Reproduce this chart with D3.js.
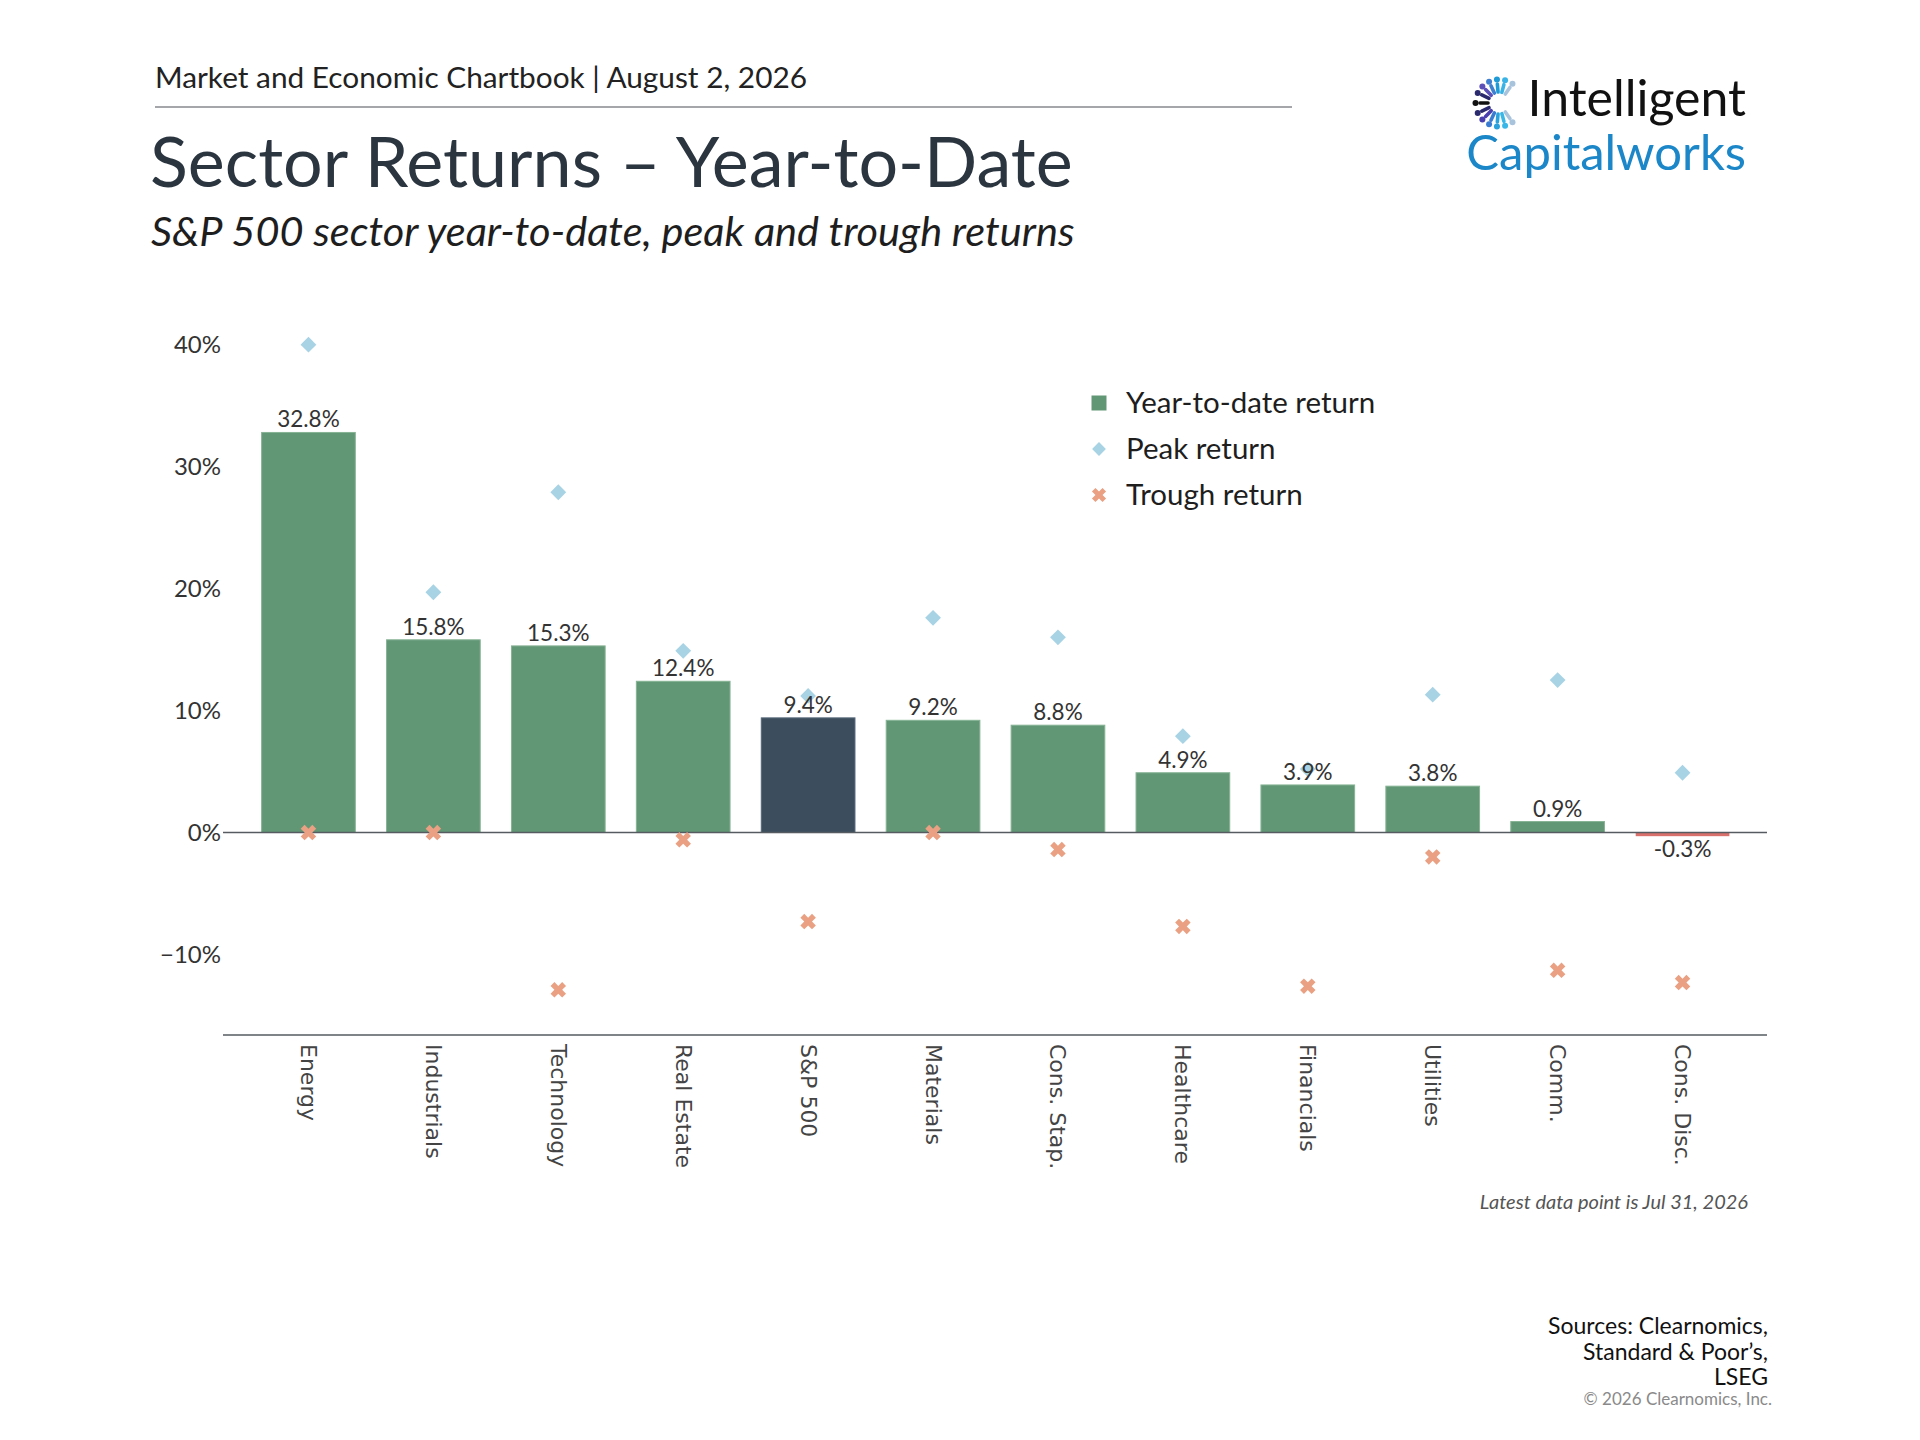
<!DOCTYPE html>
<html>
    <head>
        <meta charset="utf-8">
        <script src="https://d3js.org/d3.v7.min.js"></script>
        <style>
            body { margin: 0; background: #fff; }
            svg { font-family: Lato, "Noto Sans", sans-serif; }
        </style>
    </head>
    <body>
        <svg height='1440' width='1920'></svg>

        <script>
            // chart values
            const sectors = ['Energy','Industrials','Technology','Real Estate','S&P 500','Materials',
                             'Cons. Stap.','Healthcare','Financials','Utilities','Comm.','Cons. Disc.'];
            const ytd    = [32.8, 15.8, 15.3, 12.4, 9.4, 9.2, 8.8, 4.9, 3.9, 3.8, 0.9, -0.3];
            const peak   = [40.0, 19.7, 27.9, 14.9, 11.2, 17.6, 16.0, 7.9, 5.2, 11.3, 12.5, 4.9];
            const trough = [0.0, 0.0, -12.9, -0.6, -7.3, 0.0, -1.4, -7.7, -12.6, -2.0, -11.3, -12.3];
            const yTicks = [-10, 0, 10, 20, 30, 40];
            const legendItems = ['Year-to-date return','Peak return','Trough return'];
            const sourceLines = ['Sources: Clearnomics,','Standard & Poor’s,','LSEG'];

            const svg = d3.select('svg');

            const green = '#629776', navy = '#3c4e5e', red = '#d9706c';
            const peakColor = '#a7d3e5', troughColor = '#eaa082';

            const rows = sectors.map((s, i) => ({ name: s, ytd: ytd[i], peak: peak[i], trough: trough[i] }));

            // ---- header ----
            svg.append('text')
                .attr('x', 155).attr('y', 88)
                .attr('font-size', 29.8).attr('fill', '#222')
                .text('Market and Economic Chartbook | August 2, 2026');

            svg.append('line')
                .attr('x1', 155).attr('x2', 1292)
                .attr('y1', 107).attr('y2', 107)
                .attr('stroke', '#4a4f55').attr('stroke-width', 1.2);

            svg.append('text')
                .attr('x', 150).attr('y', 187)
                .attr('font-size', 70).attr('fill', '#2b3540')
                .text('Sector Returns – Year-to-Date');

            svg.append('text')
                .attr('x', 151).attr('y', 246)
                .attr('font-size', 41.5).attr('font-style', 'italic').attr('fill', '#1e1e1e')
                .text('S&P 500 sector year-to-date, peak and trough returns');

            // ---- logo ----
            const logo = svg.append('g').attr('transform', 'translate(1499,103)');
            const rayAngles = [55, 75, 95, 115, 135, 155, 180, 205, 225, 245, 265, 285, 305];
            const rayColors = ['#a8c4dc','#39b3e6','#1e9bd7','#3f7fd0','#5b4fb8','#2b2a6e','#111111',
                               '#2b2a6e','#4a3fae','#3a7dd0','#2aa3dc','#39b8e8','#a8c4dc'];
            const rad = a => -a * Math.PI / 180;
            logo.selectAll('line').data(rayAngles).join('line')
                .attr('x1', a => 11 * Math.cos(rad(a))).attr('y1', a => 11 * Math.sin(rad(a)))
                .attr('x2', a => 19 * Math.cos(rad(a))).attr('y2', a => 19 * Math.sin(rad(a)))
                .attr('stroke', (a, i) => rayColors[i]).attr('stroke-width', 3.6)
                .attr('stroke-linecap', 'round');
            logo.selectAll('circle').data(rayAngles).join('circle')
                .attr('cx', a => 23.5 * Math.cos(rad(a))).attr('cy', a => 23.5 * Math.sin(rad(a)))
                .attr('r', 3)
                .attr('fill', (a, i) => rayColors[i]);

            svg.append('text')
                .attr('x', 1746).attr('y', 116).attr('text-anchor', 'end')
                .attr('font-size', 50).attr('fill', '#111')
                .text('Intelligent');
            svg.append('text')
                .attr('x', 1746).attr('y', 170).attr('text-anchor', 'end')
                .attr('font-size', 49).attr('fill', '#1b87c9')
                .text('Capitalworks');

            // ---- scales ----
            const x = d3.scaleBand()
                .domain(sectors)
                .range([246, 1745])
                .paddingInner(0.25)
                .paddingOuter(0.125);

            const y = d3.scaleLinear()
                .domain([-16.6, 41.2])
                .range([1035, 330]);

            const plotLeft = 223, plotRight = 1767;

            // y axis labels
            svg.append('g')
                .attr('transform', `translate(${plotLeft},0)`)
                .call(d3.axisLeft(y).tickValues(yTicks).tickSize(0).tickPadding(2)
                    .tickFormat(d => (d < 0 ? '−' : '') + Math.abs(d) + '%'))
                .call(g => g.select('.domain').remove())
                .attr('font-family', null)
                .selectAll('text')
                    .attr('font-size', 24)
                    .attr('fill', '#333');

            // bars
            svg.append('g').selectAll('rect').data(rows).join('rect')
                .attr('x', d => x(d.name))
                .attr('width', x.bandwidth())
                .attr('y', d => y(Math.max(0, d.ytd)))
                .attr('height', d => Math.abs(y(d.ytd) - y(0)))
                .attr('fill', d => d.ytd < 0 ? red : (d.name === 'S&P 500' ? navy : green))
                .attr('stroke', d => d.ytd < 0 ? 'none' : (d.name === 'S&P 500' ? '#56687a' : '#86b394'))
                .attr('stroke-width', 1);

            // zero line
            svg.append('line')
                .attr('x1', plotLeft).attr('x2', plotRight)
                .attr('y1', y(0)).attr('y2', y(0))
                .attr('stroke', '#555b61').attr('stroke-width', 1.5);

            // bottom axis with category labels
            const xAxis = svg.append('g')
                .attr('transform', 'translate(0,1035)')
                .call(d3.axisBottom(x).tickSize(0))
                .call(g => g.select('.domain').remove())
                .attr('font-family', '"DejaVu Sans", sans-serif');
            xAxis.selectAll('text')
                .attr('font-size', 22)
                .attr('fill', '#444')
                .attr('text-anchor', 'start')
                .attr('dy', null)
                .attr('y', 0)
                .attr('dominant-baseline', 'central')
                .attr('transform', 'translate(0,9) rotate(90)');
            svg.append('line')
                .attr('x1', plotLeft).attr('x2', plotRight)
                .attr('y1', 1035).attr('y2', 1035)
                .attr('stroke', '#555b61').attr('stroke-width', 1.5);

            // peak diamonds
            const cx = d => x(d) + x.bandwidth() / 2;
            svg.append('g').selectAll('path').data(rows).join('path')
                .attr('d', d3.symbol(d3.symbolSquare, 125))
                .attr('transform', d => `translate(${cx(d.name)},${y(d.peak)}) rotate(45)`)
                .attr('fill', peakColor);

            // trough crosses
            svg.append('g').selectAll('path').data(rows).join('path')
                .attr('d', d3.symbol(d3.symbolCross, 150))
                .attr('transform', d => `translate(${cx(d.name)},${y(d.trough)}) rotate(45)`)
                .attr('fill', troughColor);

            // bar labels
            svg.append('g').selectAll('text').data(rows).join('text')
                .attr('x', d => cx(d.name))
                .attr('y', d => d.ytd >= 0 ? y(d.ytd) - 5 : y(d.ytd) + 21)
                .attr('text-anchor', 'middle')
                .attr('font-size', 22.5)
                .attr('fill', '#333')
                .text(d => d.ytd.toFixed(1) + '%');

            // legend
            const legend = svg.append('g').attr('transform', 'translate(1099,403)');
            const li = legend.selectAll('g').data(legendItems).join('g')
                .attr('transform', (d, i) => `translate(0,${i * 46})`);
            li.filter((d, i) => i === 0).append('rect')
                .attr('x', -7.5).attr('y', -7.5).attr('width', 15).attr('height', 15)
                .attr('fill', green);
            li.filter((d, i) => i === 1).append('path')
                .attr('d', d3.symbol(d3.symbolSquare, 95))
                .attr('transform', 'rotate(45)')
                .attr('fill', peakColor);
            li.filter((d, i) => i === 2).append('path')
                .attr('d', d3.symbol(d3.symbolCross, 125))
                .attr('transform', 'rotate(45)')
                .attr('fill', troughColor);
            li.append('text')
                .attr('x', 27).attr('dy', '0.35em')
                .attr('font-size', 29.5).attr('fill', '#1e1e1e')
                .text(d => d);

            // footer
            svg.append('text')
                .attr('x', 1748).attr('y', 1209).attr('text-anchor', 'end')
                .attr('font-size', 20).attr('font-style', 'italic').attr('fill', '#555')
                .text('Latest data point is Jul 31, 2026');

            svg.append('g').selectAll('text').data(sourceLines).join('text')
                .attr('x', 1768).attr('y', (d, i) => 1334 + i * 25.5)
                .attr('text-anchor', 'end')
                .attr('font-size', 23).attr('fill', '#111')
                .text(d => d);

            svg.append('text')
                .attr('x', 1772).attr('y', 1405).attr('text-anchor', 'end')
                .attr('font-size', 17).attr('fill', '#8a8a8a')
                .text('© 2026 Clearnomics, Inc.');
        </script>
    </body>
</html>
